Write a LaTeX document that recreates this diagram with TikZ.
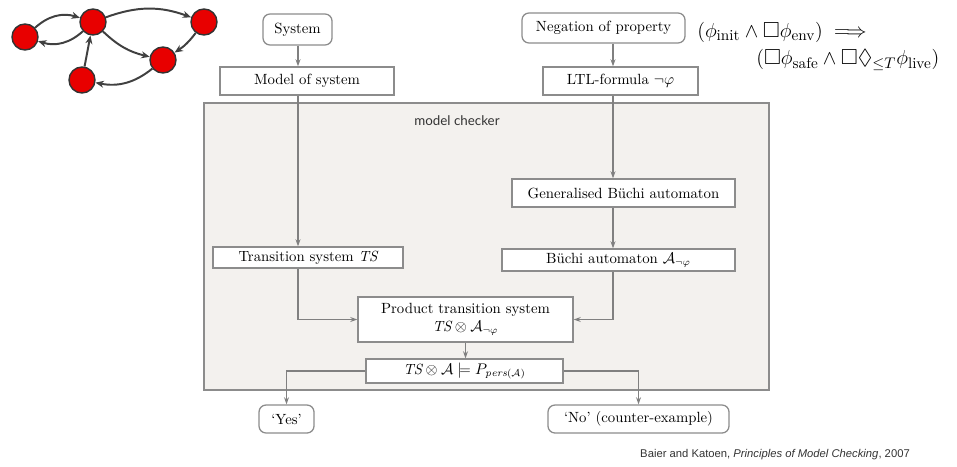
\documentclass[tikz,border=0pt]{standalone}
\usepackage{amsmath,amssymb}
\usepackage{fontspec}
\newfontfamily\mcfont{Lato}
\newfontfamily\citefont{Liberation Sans}
\usetikzlibrary{arrows.meta}
\definecolor{linegray}{HTML}{808080}
\definecolor{boxgray}{HTML}{8C8C8C}
\definecolor{mcfill}{HTML}{F3F1EE}
\definecolor{nodered}{HTML}{E80000}
\tikzset{
  box/.style={draw=boxgray, fill=white, line width=0.9pt, inner sep=0pt, align=center,
    font=\fontsize{10.5}{12.5}\selectfont},
  rbox/.style={box, rounded corners=5pt},
  flow/.style={draw=linegray, line width=0.8pt, -{Stealth[length=5pt,width=3.5pt]}},
  state/.style={circle, draw=black!80, fill=nodered, line width=1pt, minimum size=0.65cm, inner sep=0pt},
  trans/.style={draw=black!75, line width=1.4pt, -{Stealth[length=6pt,width=5pt]}}
}
\begin{document}
\begin{tikzpicture}[x=0.025cm,y=-0.025cm]
\useasboundingbox (0,0) rectangle (957,466);

      \begin{scope}[every node/.style={state}]
        \node (a) at (25,37) {};
        \node (b) at (93,22) {};
        \node (c) at (204,22) {};
        \node (d) at (163,60) {};
        \node (e) at (82,80) {};
      \end{scope}

      \draw[trans] (a) to[bend left=30] (b);
      \draw[trans] (b) to[bend left=30] (a);
      \draw[trans] (b) to[bend left=20] (c);
      \draw[trans] (c) to[bend left=10] (d);
      \draw[trans] (b) to[bend right=15] (d);
      \draw[trans] (d) to[bend left=25] (e);
      \draw[trans] (e) -- (b);

      \node[draw=boxgray, fill=mcfill, line width=0.9pt, minimum width=14.125cm, minimum height=7.175cm] (mc) at (486.5,246.5) {};
      \node[font=\mcfont\fontsize{9.5}{11}\selectfont, text=black!80] (mclabel) at (457,121) {model checker};

      \node[rbox, minimum width=1.725cm, minimum height=0.775cm] (sys) at (297.5,29.5) {System};
      \node[box, minimum width=4.35cm, minimum height=0.7cm] (model) at (307,81) {Model of system};
      \node[rbox, minimum width=4.075cm, minimum height=0.75cm] (neg) at (603.5,28) {Negation of property};
      \node[box, minimum width=3.875cm, minimum height=0.7cm] (ltl) at (620.5,81) {LTL-formula $\neg\varphi$};
      \node[box, minimum width=4.75cm, minimum height=0.525cm] (ts) at (308,257.5) {Transition system $\mathit{TS}$};
      \node[box, minimum width=5.575cm, minimum height=0.7cm] (gba) at (623.5,193) {Generalised B\"uchi automaton};
      \node[box, minimum width=5.825cm, minimum height=0.55cm] (ba) at (618.5,260) {B\"uchi automaton $\mathcal{A}_{\neg\varphi}$};
      \node[box, minimum width=5.375cm, minimum height=1.125cm] (prod) at (465.5,319.5) {Product transition system\\ $\mathit{TS}\otimes\mathcal{A}_{\neg\varphi}$};
      \node[box, minimum width=4.925cm, minimum height=0.6cm] (check) at (464.5,371) {$\mathit{TS}\otimes\mathcal{A}\models P_{\mathit{pers}(\mathcal{A})}$};
      \node[rbox, minimum width=1.375cm, minimum height=0.7cm] (yes) at (286.5,419) {`Yes'};
      \node[rbox, minimum width=4.525cm, minimum height=0.7cm] (no) at (638.5,419) {`No' (counter-example)};

      \coordinate (lcol) at (298,0);
      \coordinate (rcol) at (613,0);
      \draw[flow] (lcol |- sys.south) -- (lcol |- model.north);
      \draw[flow] (lcol |- model.south) -- (lcol |- ts.north);
      \draw[flow] (lcol |- ts.south) |- (prod.west);
      \draw[flow] (rcol |- neg.south) -- (rcol |- ltl.north);
      \draw[flow] (rcol |- ltl.south) -- (rcol |- gba.north);
      \draw[flow] (rcol |- gba.south) -- (rcol |- ba.north);
      \draw[flow] (rcol |- ba.south) |- (prod.east);
      \draw[flow] (prod.south) -- (prod.south |- check.north);
      \draw[flow] (check.west) -| (yes.north);
      \draw[flow] (check.east) -| (no.north);

      \node[anchor=west, inner sep=0pt, font=\fontsize{15.5}{18}\selectfont] (spec1) at (697,32) {$(\phi_{\text{init}} \wedge \Box\phi_{\text{env}}) \implies$};
      \node[anchor=west, inner sep=0pt, font=\fontsize{15.5}{18}\selectfont] (spec2) at (756,60) {$(\Box\phi_{\text{safe}} \wedge \Box\Diamond_{\leq T}\phi_{\text{live}})$};

      \node[font=\citefont\fontsize{8}{9.5}\selectfont, text=black!80] (cite) at (775,455) {Baier and Katoen, \textit{Principles of Model Checking}, 2007};

\end{tikzpicture}
\end{document}
